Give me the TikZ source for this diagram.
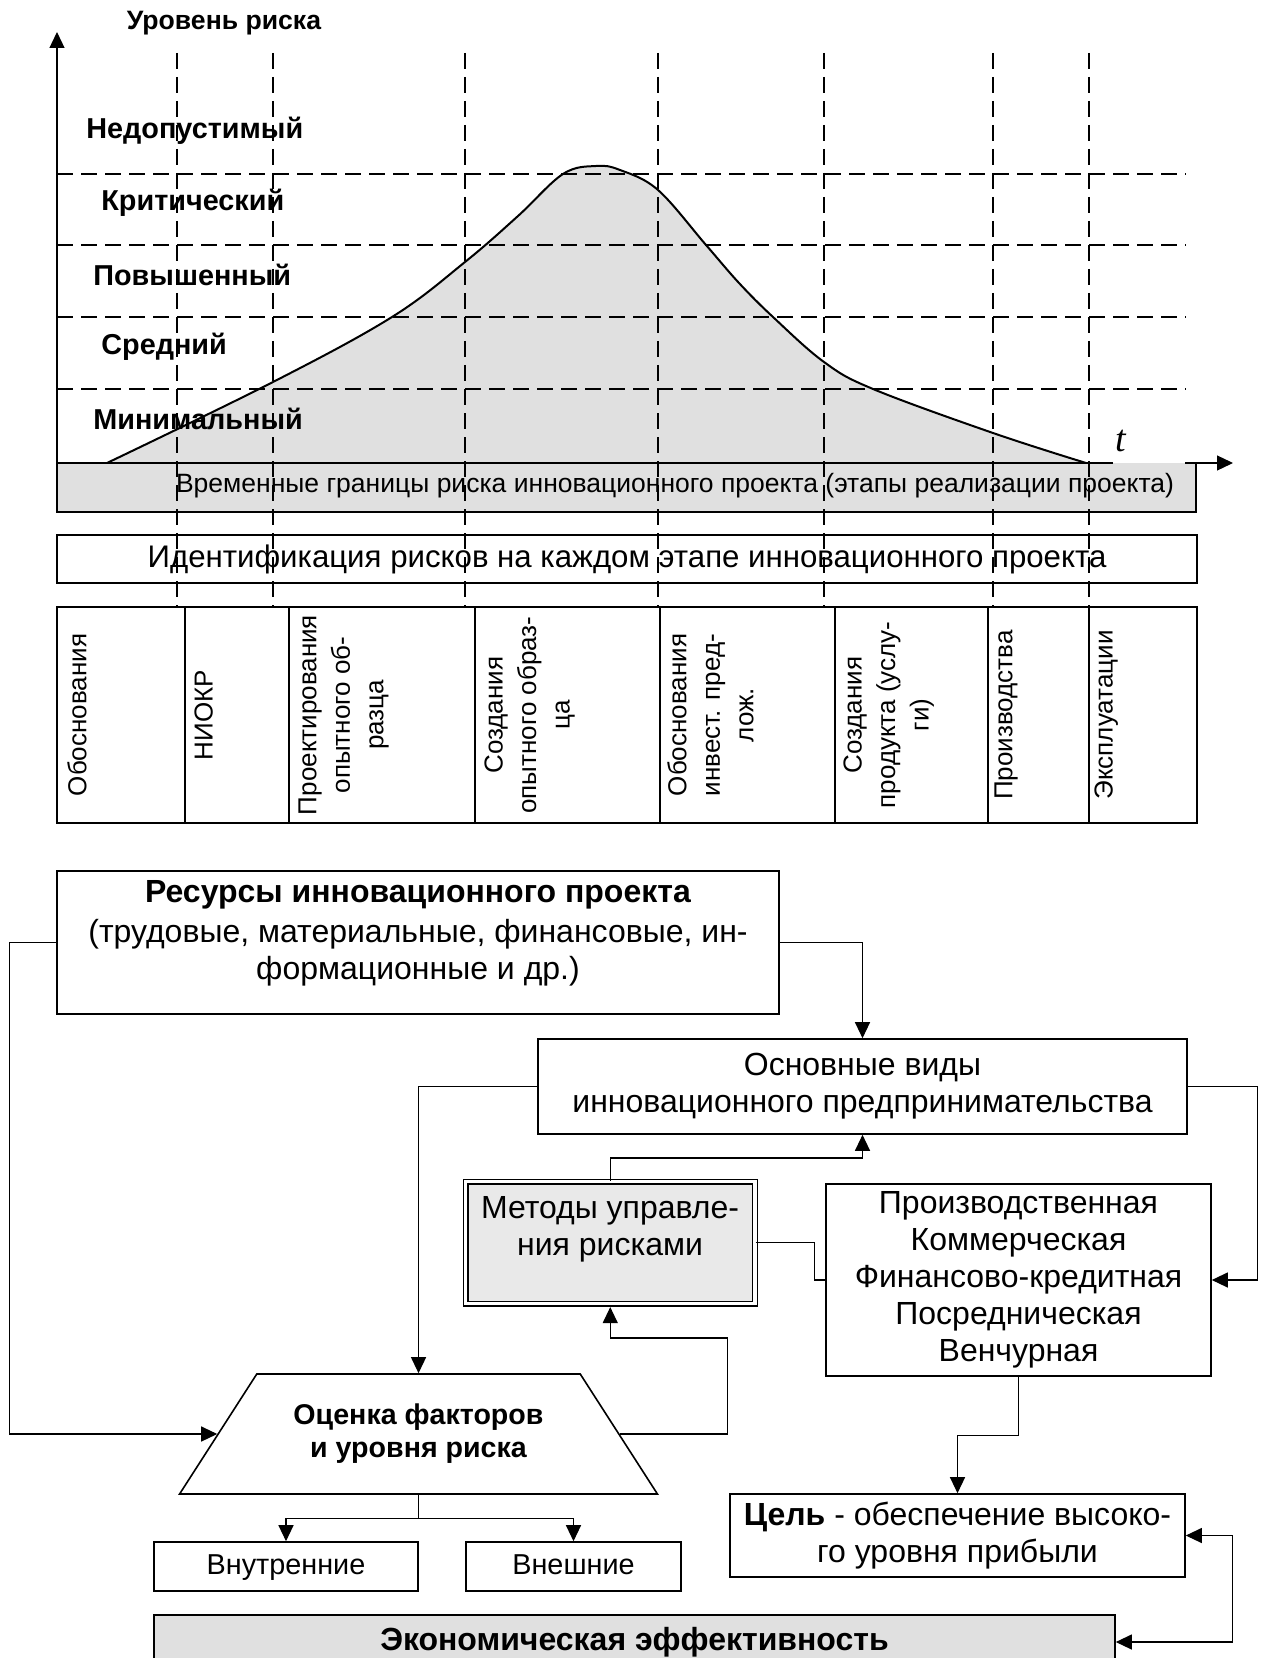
\documentclass[tikz,border=0pt]{standalone}
\usepackage{fontspec}
\setmainfont{Liberation Sans}
\newfontfamily\timesfont{Liberation Serif}
\usetikzlibrary{arrows.meta,shapes.geometric,positioning}
\definecolor{fillgrey}{RGB}{224,224,224}
\definecolor{fillgreylight}{RGB}{233,233,233}

\begin{document}
\begin{tikzpicture}[x=0.5pt, y=-0.5pt, node distance=143.75pt, >={Triangle[length=8pt,width=7.5pt]},
	box/.style = {draw, line width=0.8pt, inner sep=0pt, align=center, font=\fontsize{16}{18.5}\selectfont},
	txt/.style = {inner sep=0pt, align=center, font=\fontsize{16}{18.5}\selectfont},
	stage/.style = {rotate=90, anchor=north, inner sep=0pt, align=center, font=\fontsize{13}{16.75}\selectfont},
	risk/.style = {anchor=west, inner sep=0pt, font=\bfseries\fontsize{14.4}{17}\selectfont},
	dashline/.style = {line width=0.6pt, dash pattern=on 8pt off 4pt},
	conn/.style = {line width=0.6pt}]
	\useasboundingbox (0,0) rectangle (1261,1658);

	% risk curve
	\filldraw[fill=fillgrey, line width=1pt] plot[smooth, tension=0.6] coordinates {(107,463) (273,382) (392,317) (465,262) (518,216) (563,174) (596,166) (620,170) (658,190) (706,245) (739,283) (773,317) (824,362) (873,389) (993,433) (1086,463)} -- cycle;
	\fill[fillgrey] (57,463) rectangle (1196,512);
	\draw[conn] (1113,463) -- (57,463) -- (57,512) -- (1196,512) -- (1196,463) -- (1185,463);
	\draw[conn,->] (57,463) -- (57,32);
	\draw[conn,->] (1185,463) -- (1233,463);
	\node[inner sep=0pt, font=\bfseries\fontsize{13.3}{16}\selectfont] (axis) at (224,23) {Уровень риска};
	\node[inner sep=0pt, font=\timesfont\itshape\fontsize{19}{22}\selectfont] (t) at (1121,441) {t};
	\node[risk] (r5) at (86,131) {Недопустимый};
	\node[risk] (r4) at (101,203) {Критический};
	\node[risk] (r3) at (93,275) {Повышенный};
	\node[risk] (r2) at (101,347) {Средний};
	\node[risk] (r1) at (93,419) {Минимальный};
	\node[inner sep=0pt, font=\fontsize{13.25}{16}\selectfont] (band) at (675,486) {Временные границы риска инновационного проекта (этапы реализации проекта)};
	\node[box, fill=white, minimum width=570pt, minimum height=24pt, font=\fontsize{15.6}{18}\selectfont] (ident) at (627,559) {Идентификация рисков на каждом этапе инновационного проекта};

	% stages
	\draw[line width=0.8pt] (57,607) rectangle (1197,823);
	\draw[line width=0.8pt] (185,607) -- (185,823);
	\draw[line width=0.8pt] (289,607) -- (289,823);
	\draw[line width=0.8pt] (475,607) -- (475,823);
	\draw[line width=0.8pt] (660,607) -- (660,823);
	\draw[line width=0.8pt] (835,607) -- (835,823);
	\draw[line width=0.8pt] (988,607) -- (988,823);
	\draw[line width=0.8pt] (1089,607) -- (1089,823);
	\node[stage] (s1) at (67,715) {Обоснования};
	\node[stage] (s2) at (194,715) {НИОКР};
	\node[stage] (s3) at (298,715) {Проектирования\\опытного об-\\разца};
	\node[stage] (s4) at (484,715) {Создания\\опытного образ-\\ца};
	\node[stage] (s5) at (667,715) {Обоснования\\инвест. пред-\\лож.};
	\node[stage] (s6) at (843,715) {Создания\\продукта (услу-\\ги)};
	\node[stage] (s7) at (994,715) {Производства};
	\node[stage] (s8) at (1094,715) {Эксплуатации};

	\draw[dashline] (57,174) -- (1186,174);
	\draw[dashline] (57,245) -- (1186,245);
	\draw[dashline] (57,317) -- (1186,317);
	\draw[dashline] (57,389) -- (1186,389);
	\draw[dashline] (177,53) -- (177,607);
	\draw[dashline] (273,53) -- (273,607);
	\draw[dashline] (465,53) -- (465,607);
	\draw[dashline] (658,53) -- (658,607);
	\draw[dashline] (824,53) -- (824,607);
	\draw[dashline] (993,53) -- (993,607);
	\draw[dashline] (1089,53) -- (1089,607);

	% scheme
	\node[box, minimum width=361pt, minimum height=71.5pt] (1) at (418,942.5) {};
	\node[txt] (1a) at (418,933) {\textbf{Ресурсы инновационного проекта}\\[1.5pt](трудовые, материальные, финансовые, ин-\\формационные и др.)};
	\node[box, minimum width=324.5pt, minimum height=47.5pt] (2) at (862.5,1086.5) {Основные виды\\инновационного предпринимательства};
	\node[box, fill=fillgreylight, double, double distance=1.8pt, line width=0.6pt, minimum width=144.75pt, minimum height=61pt] (3) at (610.25,1242.5) {};
	\node[txt] (3a) at (610,1229) {Методы управле-\\ния рисками};
	\node[box, minimum width=192.5pt, minimum height=96pt] (4) at (1018.5,1280) {Производственная\\Коммерческая\\Финансово-кредитная\\Посредническая\\Венчурная};
	\node[draw, line width=0.8pt, trapezium, trapezium left angle=45, trapezium right angle=45, trapezium stretches=true, minimum width=239.5pt, minimum height=60pt, inner sep=0pt, align=center, font=\bfseries\fontsize{14.3}{16.5}\selectfont] (5) at (418.5,1434) {Оценка факторов\\и уровня риска};
	\node[box, minimum width=227.5pt, minimum height=41.5pt] (6) at (957.5,1535.5) {\textbf{Цель} - обеспечение высоко-\\го уровня прибыли};
	\node[box, minimum width=132pt, minimum height=24.5pt, text height=10.5pt, text depth=3pt, font=\fontsize{14.4}{17}\selectfont] (7) at (286,1566.5) {Внутренние};
	\node[box, minimum width=107.5pt, minimum height=24.5pt, text height=10.5pt, text depth=3pt, font=\fontsize{14.4}{17}\selectfont] (8) [right of=7] {Внешние};
	\node[box, fill=fillgrey, minimum width=480.5pt, minimum height=27pt, font=\bfseries\fontsize{16}{18.5}\selectfont] (9) at (634.5,1642) {Экономическая эффективность};

	\draw[conn,->] (1.east) -| (2.north);
	\draw[conn,->] (1.west) -- ++(-47,0) |- (5.west);
	\draw[conn,->] (2.west) -| (5.north);
	\draw[conn,->] (2.east) -- ++(70,0) |- (4.east);
	\draw[conn,->] (3.north) -- ++(0,-23) -| (2.south);
	\draw[conn] (3.east) -- ++(59,0) |- (4.west);
	\draw[conn,->, shorten >=1.5pt] (5.east) -- ++(108,0) -- ++(0,-96) -| (3.south);
	\draw[conn,->] (4.south) -- ++(0,59) -| (6.north);
	\draw[conn,<->] (6.east) -- ++(47,0) |- (9.east);
	\draw[conn] (5.south) -- ++(0,24) coordinate (fork);
	\draw[conn,->] (fork) -| (7.north);
	\draw[conn,->] (fork) -| (8.north);
\end{tikzpicture}
\end{document}
